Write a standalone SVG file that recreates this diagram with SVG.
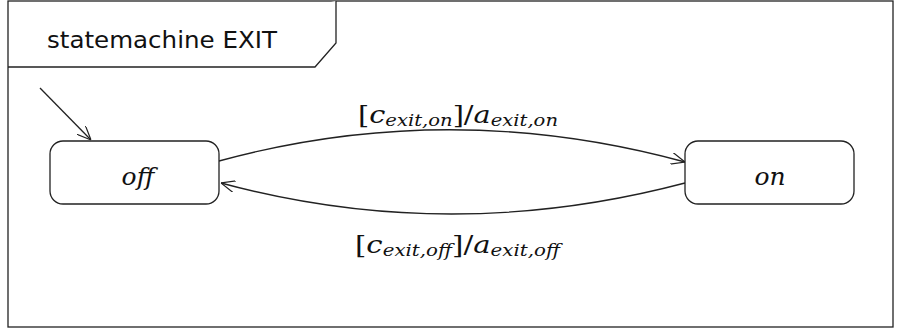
<svg xmlns="http://www.w3.org/2000/svg" width="901" height="332" viewBox="0 0 901 332">
<defs>
<style>
.frame{fill:#fff;stroke:#222;stroke-width:1.3}
.state{fill:#fff;stroke:#222;stroke-width:1.3}
.edge{fill:none;stroke:#222;stroke-width:1.3}
.title{font-family:"DejaVu Sans",sans-serif;font-size:23px;fill:#111}
.math{font-family:"DejaVu Serif",serif;font-size:25px;fill:#111}
.it{font-style:italic}
.sub{font-style:italic;font-size:17px}
</style>
<marker id="arr" viewBox="0 0 14 12" refX="14" refY="6" markerWidth="14" markerHeight="12" markerUnits="userSpaceOnUse" orient="auto">
<path d="M0,0 L14,6 L0,12" fill="none" stroke="#222" stroke-width="1.2"/>
</marker>
</defs>
<g id="frame">
<rect class="frame" x="8" y="1" width="885" height="326"/>
<path class="frame" d="M8,67 L315,67 L336,43 L336,1" fill="none"/>
<text class="title" x="47" y="48" textLength="230" lengthAdjust="spacingAndGlyphs">statemachine EXIT</text>
</g>
<g id="connectors">
<path class="edge" d="M40,88 L91,140" marker-end="url(#arr)"/>
<path class="edge" d="M219,161 Q450,98 685,162" marker-end="url(#arr)"/>
<path class="edge" d="M685,183 Q450,245 221,183" marker-end="url(#arr)"/>
<text class="math" x="358" y="123" textLength="200" lengthAdjust="spacingAndGlyphs"><tspan>[</tspan><tspan class="it">c</tspan><tspan class="sub" dy="3">exit,on</tspan><tspan dy="-3">]/</tspan><tspan class="it">a</tspan><tspan class="sub" dy="3">exit,on</tspan></text>
<text class="math" x="355" y="253" textLength="205" lengthAdjust="spacingAndGlyphs"><tspan>[</tspan><tspan class="it">c</tspan><tspan class="sub" dy="3">exit,off</tspan><tspan dy="-3">]/</tspan><tspan class="it">a</tspan><tspan class="sub" dy="3">exit,off</tspan></text>
</g>
<g id="off">
<rect class="state" x="50" y="141" width="169" height="63" rx="13"/>
<text class="math it" x="138" y="185" text-anchor="middle">off</text>
</g>
<g id="on">
<rect class="state" x="685" y="141" width="169" height="63" rx="13"/>
<text class="math it" x="770" y="185" text-anchor="middle">on</text>
</g>
</svg>
